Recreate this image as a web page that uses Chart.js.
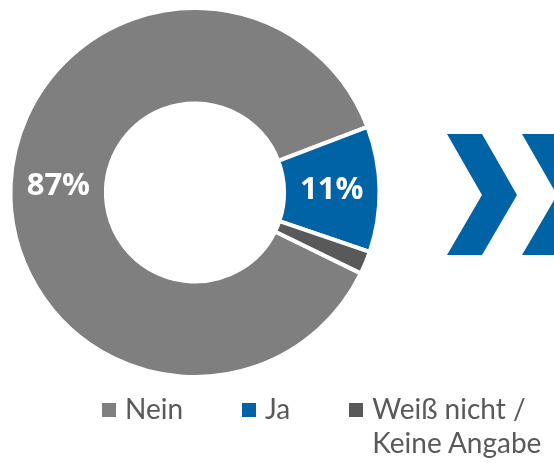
<!DOCTYPE html>
<html lang="de">
<head>
<meta charset="utf-8">
<script src="https://cdn.jsdelivr.net/npm/chart.js@4"></script>
<style>
    body { margin: 0; background: #fff; width: 554px; height: 463px; overflow: hidden; position: relative; font-family: Lato, sans-serif; }
    #donut-wrap { position: absolute; left: 0; top: 0; width: 390px; height: 385px; }
    #arrows { position: absolute; left: 0; top: 0; }
    #legend { position: absolute; left: 102px; right: 0; top: 391px; display: flex; gap: 59px; color: #595959; font-size: 28px; line-height: 34px; }
    .legend-item { display: flex; align-items: flex-start; }
    .legend-box { flex: none; width: 14px; height: 14px; margin-top: 12px; margin-right: 9px; }
</style>
</head>
<body>
<div id="donut-wrap"><canvas id="donutChart"></canvas></div>
<svg id="arrows" width="554" height="463">
    <polygon points="447,134 482,134 517,195 482,255 447,255 482,195" fill="#0063A6"/>
    <polygon points="522,134 557,134 592,195 557,255 522,255 557,195" fill="#0063A6"/>
</svg>
<div id="legend"></div>

<script>
// Antworten in Prozent
const labels = ['Nein', 'Ja', 'Weiß nicht / Keine Angabe'];
const values = [87, 11, 2];
const colors = ['#7F7F7F', '#0063A6', '#595959'];

// Prozentwerte mittig in die größeren Segmente schreiben
const sliceLabels = {
    id: 'sliceLabels',
    afterDatasetsDraw(chart) {
        const ctx = chart.ctx;
        const meta = chart.getDatasetMeta(0);
        ctx.save();
        ctx.font = 'bold 31px "Open Sans"';
        ctx.fillStyle = '#fff';
        ctx.textAlign = 'center';
        ctx.textBaseline = 'middle';
        meta.data.forEach((arc, i) => {
            if (values[i] < 5) return;
            const pos = arc.tooltipPosition();
            ctx.fillText(values[i] + '%', pos.x, pos.y);
        });
        ctx.restore();
    }
};

new Chart(document.getElementById('donutChart'), {
    type: 'doughnut',
    data: {
        labels: labels,
        datasets: [{
            data: values,
            backgroundColor: colors,
            borderColor: '#fff',
            borderWidth: 4
        }]
    },
    options: {
        responsive: true,
        maintainAspectRatio: false,
        animation: false,
        rotation: 116,
        radius: 184.5,
        cutout: 92,
        layout: { padding: 0 },
        plugins: {
            legend: { display: false },
            tooltip: { enabled: false }
        }
    },
    plugins: [sliceLabels]
});

// Legende unter dem Diagramm
const legendDiv = document.getElementById('legend');
labels.forEach((label, i) => {
    const item = document.createElement('div');
    item.classList.add('legend-item');
    item.innerHTML = `<span class="legend-box" style="background:${colors[i]}"></span><span>${label}</span>`;
    legendDiv.appendChild(item);
});
</script>
</body>
</html>
